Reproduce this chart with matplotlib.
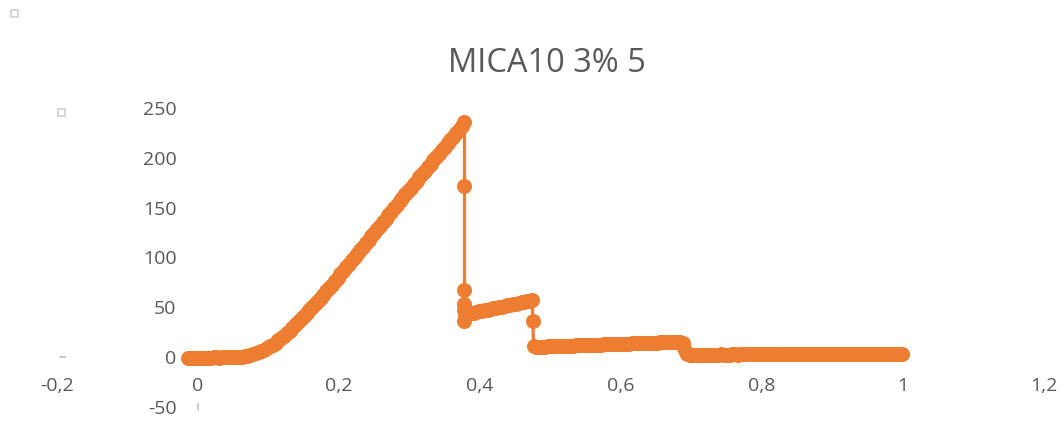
import matplotlib
matplotlib.use("Agg")
import matplotlib.pyplot as plt
from matplotlib.lines import Line2D
from matplotlib.patches import Rectangle

# Strain (x) and stress (y) readings for specimen MICA10 3% 5
x_toe = [-0.014, -0.010, -0.006, -0.002, 0.002, 0.006, 0.010, 0.014, 0.018,
         0.022, 0.026, 0.030, 0.034, 0.038, 0.042, 0.046, 0.050, 0.054,
         0.058, 0.062, 0.066, 0.070]
y_toe = [-1.0, -0.8, -0.6, -0.8, -0.5, -0.6, -0.4, -0.5, -0.5, -0.3, -0.3,
         -0.4, -0.2, -0.1, 0.0, 0.1, 0.2, 0.2, 0.4, 0.6, 0.8, 1.2]

x_rise = [0.074, 0.078, 0.082, 0.086, 0.090, 0.094, 0.098, 0.102, 0.106, 0.110,
          0.114, 0.118, 0.122, 0.126, 0.130, 0.134, 0.138, 0.142, 0.146, 0.150,
          0.154, 0.158, 0.162, 0.166, 0.170, 0.174, 0.178, 0.182, 0.186, 0.190,
          0.194, 0.198, 0.202, 0.206, 0.210, 0.214, 0.218, 0.222, 0.226, 0.230,
          0.234, 0.238, 0.242, 0.246, 0.250, 0.254, 0.258, 0.262, 0.266, 0.270,
          0.274, 0.278, 0.282, 0.286, 0.290, 0.294, 0.298, 0.302, 0.306, 0.310,
          0.314, 0.318, 0.322, 0.326, 0.330, 0.334, 0.338, 0.342, 0.346, 0.350,
          0.354, 0.358, 0.362, 0.366, 0.370, 0.374, 0.378]
y_rise = [2.0, 2.9, 3.9, 5.0, 6.2, 7.6, 9.1, 10.8, 12.7, 14.7,
          16.9, 19.2, 21.6, 24.1, 26.7, 29.4, 32.2, 35.0, 37.9, 40.9,
          43.9, 46.9, 50.0, 53.1, 56.2, 59.3, 62.6, 65.9, 69.3, 72.7,
          76.1, 79.6, 83.0, 86.5, 90.0, 93.5, 97.0, 100.5, 104.0, 107.5,
          111.0, 114.5, 118.0, 121.5, 125.0, 128.5, 132.0, 135.5, 139.0, 142.5,
          146.0, 149.5, 153.0, 156.5, 160.0, 163.4, 166.8, 170.2, 173.6, 177.0,
          180.4, 183.8, 187.2, 190.6, 194.0, 197.4, 200.8, 204.2, 207.6, 211.0,
          214.4, 217.8, 221.2, 224.6, 228.0, 231.5, 235.5]

x_drop1 = [0.378, 0.378, 0.378, 0.378, 0.378]
y_drop1 = [172, 67, 53, 47, 36]

x_mid = [0.379, 0.383, 0.387, 0.391, 0.395, 0.399, 0.403, 0.407, 0.411,
         0.415, 0.419, 0.423, 0.427, 0.431, 0.435, 0.439, 0.443, 0.447,
         0.451, 0.455, 0.459, 0.463, 0.467, 0.471, 0.474]
y_mid = [43.0, 43.6, 44.2, 44.8, 45.4, 46.0, 46.6, 47.2, 47.8, 48.4, 49.0,
         49.6, 50.2, 50.8, 51.4, 52.0, 52.6, 53.2, 53.8, 54.4, 55.0, 55.6,
         56.2, 56.8, 57.5]

x_drop2 = [0.475, 0.476]
y_drop2 = [36, 11]

x_low = [0.480, 0.484, 0.488, 0.492, 0.496, 0.500, 0.504, 0.508, 0.512, 0.516,
         0.520, 0.524, 0.528, 0.532, 0.536, 0.540, 0.544, 0.548, 0.552, 0.556,
         0.560, 0.564, 0.568, 0.572, 0.576, 0.580, 0.584, 0.588, 0.592, 0.596,
         0.600, 0.604, 0.608, 0.612, 0.616, 0.620, 0.624, 0.628, 0.632, 0.636,
         0.640, 0.644, 0.648, 0.652, 0.656, 0.660, 0.664, 0.668, 0.672, 0.676,
         0.680, 0.684, 0.688]
y_low = [10.4, 10.5, 10.6, 10.7, 10.8, 10.9, 11.0, 11.1, 11.2, 11.3,
         11.4, 11.5, 11.6, 11.7, 11.8, 11.9, 12.0, 12.1, 12.2, 12.3,
         12.4, 12.5, 12.6, 12.7, 12.8, 12.9, 13.0, 13.1, 13.2, 13.3,
         13.4, 13.5, 13.6, 13.7, 13.8, 13.9, 14.0, 14.1, 14.2, 14.3,
         14.4, 14.5, 14.6, 14.7, 14.8, 14.9, 15.0, 15.1, 15.2, 15.3,
         15.3, 15.0, 14.2]

x_drop3 = [0.690, 0.692]
y_drop3 = [9, 5]

x_tail = [0.694, 0.698, 0.702, 0.706, 0.710, 0.714, 0.718, 0.722, 0.726, 0.730,
          0.734, 0.738, 0.742, 0.746, 0.750, 0.754, 0.758, 0.762, 0.766, 0.770,
          0.774, 0.778, 0.782, 0.786, 0.790, 0.794, 0.798, 0.802, 0.806, 0.810,
          0.814, 0.818, 0.822, 0.826, 0.830, 0.834, 0.838, 0.842, 0.846, 0.850,
          0.854, 0.858, 0.862, 0.866, 0.870, 0.874, 0.878, 0.882, 0.886, 0.890,
          0.894, 0.898, 0.902, 0.906, 0.910, 0.914, 0.918, 0.922, 0.926, 0.930,
          0.934, 0.938, 0.942, 0.946, 0.950, 0.954, 0.958, 0.962, 0.966, 0.970,
          0.974, 0.978, 0.982, 0.986, 0.990, 0.994, 0.998]
y_tail = [3.0, 2.6, 2.5, 2.6, 2.4, 2.5, 2.6, 2.5, 2.5, 2.6,
          2.5, 2.6, 2.7, 2.6, 2.5, 2.6, 2.7, 2.7, 2.6, 2.7,
          2.7, 2.8, 2.7, 2.7, 2.8, 2.8, 2.7, 2.8, 2.8, 2.9,
          2.8, 2.8, 2.9, 2.9, 2.8, 2.9, 2.9, 3.0, 2.9, 2.9,
          3.0, 3.0, 2.9, 3.0, 3.0, 3.1, 3.0, 3.0, 3.1, 3.1,
          3.0, 3.1, 3.1, 3.2, 3.1, 3.1, 3.2, 3.2, 3.1, 3.2,
          3.2, 3.3, 3.2, 3.2, 3.3, 3.3, 3.2, 3.3, 3.3, 3.4,
          3.3, 3.3, 3.4, 3.4, 3.3, 3.4, 3.4]

x_ticks = [-0.2, 0.0, 0.2, 0.4, 0.6, 0.8, 1.0, 1.2]
x_tick_labels = ["-0,2", "0", "0,2", "0,4", "0,6", "0,8", "1", "1,2"]
y_ticks = [-50, 0, 50, 100, 150, 200, 250]
y_tick_labels = ["-50", "0", "50", "100", "150", "200", "250"]

title = "MICA10 3% 5"

xs = x_toe + x_rise + x_drop1 + x_mid + x_drop2 + x_low + x_drop3 + x_tail
ys = y_toe + y_rise + y_drop1 + y_mid + y_drop2 + y_low + y_drop3 + y_tail

ORANGE = "#ED7D31"
GREY = "#595959"
FONT = "Open Sans"

W, H = 1064, 423
fig = plt.figure(figsize=(W / 100, H / 100), dpi=100)
ax = fig.add_axes([57 / W, 1 - 407 / H, (1044 - 57) / W, (407 - 108) / H])

series, = ax.plot(xs, ys, "-o", color=ORANGE, lw=2.3, ms=9.8, mec=ORANGE,
                  mfc=ORANGE, solid_capstyle="round", clip_on=False)
series.set_snap(False)

ax.set_xlim(-0.2, 1.2)
ax.set_ylim(-50, 250)
ax.set_xticks(x_ticks)
ax.set_xticklabels(x_tick_labels)
ax.set_yticks(y_ticks)
ax.set_yticklabels(y_tick_labels)

# Axes cross at the origin; their lines are not drawn
for side in ("top", "right"):
    ax.spines[side].set_visible(False)
ax.spines["left"].set_position(("data", 0))
ax.spines["bottom"].set_position(("data", 0))
ax.spines["left"].set_visible(False)
ax.spines["bottom"].set_visible(False)

ax.tick_params(axis="both", length=0, colors=GREY, labelsize=14)
ax.tick_params(axis="x", pad=14.5)
ax.tick_params(axis="y", pad=15.5)
for lab in ax.get_xticklabels() + ax.get_yticklabels():
    lab.set_fontfamily(FONT)
    lab.set_color(GREY)
ax.patch.set_visible(False)

fig.text(547 / W, 1 - 63 / H, title, ha="center", va="center",
         fontsize=23.5, color=GREY, family=FONT)

# Small grey handle marks around the chart frame
for cx, cy in [(14, 14), (61, 113)]:
    fig.patches.append(Rectangle(((cx - 3.5) / W, 1 - (cy + 3.5) / H),
                                 7 / W, 7 / H, transform=fig.transFigure,
                                 fill=False, edgecolor="#CFCFCF", lw=1.2))
fig.lines.append(Line2D([60 / W, 65 / W], [1 - 357 / H, 1 - 357 / H],
                        transform=fig.transFigure, color="#BFBFBF", lw=1.2))
fig.lines.append(Line2D([198 / W, 198 / W], [1 - 404 / H, 1 - 410 / H],
                        transform=fig.transFigure, color="#BFBFBF", lw=1.2))

fig.savefig("out.png", dpi=100, facecolor="white")
